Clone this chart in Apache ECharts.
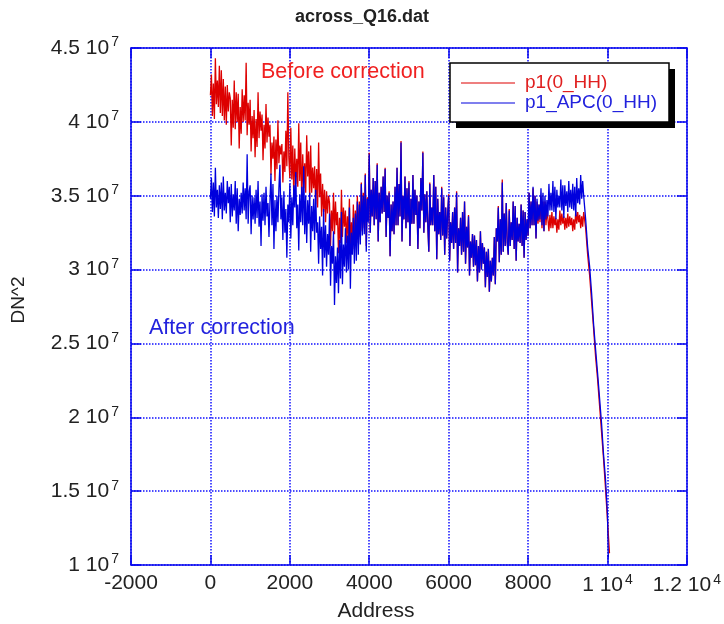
<!DOCTYPE html>
<html>
<head>
<meta charset="utf-8">
<script src="https://cdn.jsdelivr.net/npm/echarts@6/dist/echarts.min.js"></script>
<style>
  html, body { margin: 0; padding: 0; background: #fff; }
  #chart { width: 724px; height: 624px; }
</style>
</head>
<body>
<div id="chart"></div>
<script>
// values in units of 1e6 (DN^2), sampled every 25 addresses from 0 to 9400
const step = 25;

const p1 = [
  41.8, 43.2, 40.4, 42.6, 40.2, 44.3, 41.2, 42.8, 41.0, 43.8, 40.6, 43.5, 40.4, 42.9, 40.1, 42.4, 39.8, 42.5, 40.7, 42.0,
  41.6, 38.4, 41.5, 39.6, 42.8, 39.5, 42.0, 40.0, 41.9, 38.2, 41.0, 39.2, 42.2, 40.0, 41.8, 40.1, 44.0, 39.1, 41.3, 39.8,
  41.5, 38.0, 40.4, 38.9, 40.8, 37.6, 40.2, 38.3, 42.0, 38.9, 40.7, 39.4, 40.5, 37.4, 39.8, 38.2, 41.2, 38.6, 40.3, 39.0,
  39.8, 36.4, 38.6, 37.5, 39.0, 36.0, 38.8, 36.8, 40.1, 37.2, 38.4, 37.8, 38.5, 35.9, 38.0, 36.6, 39.4, 37.0, 42.0, 37.6,
  36.2, 39.6, 36.1, 38.4, 34.9, 38.2, 35.8, 37.5, 35.6, 39.9, 36.0, 38.6, 34.6, 37.8, 35.5, 37.2, 35.2, 39.1, 36.3, 38.0,
  34.8, 38.4, 35.2, 36.9, 35.5, 37.0, 34.4, 36.8, 34.2, 38.6, 34.9, 36.5, 33.6, 35.8, 33.9, 35.4, 33.2, 35.3, 33.8, 35.0,
  34.5, 31.6, 34.0, 32.6, 35.2, 32.4, 34.6, 33.0, 33.9, 31.1, 33.5, 31.8, 35.4, 32.2, 34.2, 32.9, 34.0, 31.8, 33.6, 32.0,
  34.8, 31.5, 33.2, 31.6, 34.4, 31.4, 34.0, 32.0, 35.0, 31.8, 34.6, 32.2, 35.9, 32.6, 35.2, 32.8, 36.5, 31.6, 34.9, 33.4,
  37.9, 32.5, 35.4, 33.6, 36.2, 33.0, 36.0, 33.4, 37.2, 31.9, 35.2, 33.2, 35.6, 33.8, 36.3, 33.9, 36.9, 32.2, 35.0, 33.5,
  35.3, 30.9, 34.4, 32.6, 34.6, 32.4, 35.6, 33.0, 36.9, 33.0, 35.8, 33.6, 38.7, 31.9, 35.0, 33.4, 36.3, 32.8, 35.5, 33.2,
  36.0, 31.6, 34.8, 33.1, 36.4, 33.1, 35.4, 33.7, 35.0, 31.4, 34.6, 32.8, 36.2, 34.0, 38.0, 32.5, 35.1, 33.2, 35.3, 33.0,
  31.2, 35.9, 33.0, 34.2, 33.0, 36.4, 32.6, 35.6, 30.7, 34.8, 32.4, 33.9, 32.0, 35.6, 32.3, 34.9, 31.0, 34.2, 32.1, 33.8,
  35.1, 30.6, 33.2, 31.8, 33.9, 31.4, 34.2, 31.8, 35.3, 29.8, 32.8, 31.6, 33.5, 31.0, 33.9, 31.2, 34.6, 30.4, 32.9, 31.5,
  33.7, 29.6, 31.9, 30.8, 32.4, 30.2, 32.3, 30.3, 32.0, 29.2, 31.6, 29.8, 32.6, 30.0, 31.8, 30.4, 31.5, 28.8, 31.2, 29.5,
  31.4, 28.5, 30.6, 29.2, 30.8, 29.6, 32.2, 29.0, 32.8, 31.9, 34.3, 30.5, 33.4, 31.0, 36.1, 31.2, 33.8, 31.6, 34.5, 31.8,
  31.0, 34.1, 31.6, 33.2, 32.0, 34.6, 31.4, 34.3, 30.6, 33.5, 31.9, 33.1, 31.8, 34.4, 31.6, 34.0, 30.8, 33.9, 32.0, 33.4,
  32.3, 35.2, 32.8, 34.6, 33.0, 35.5, 33.0, 35.0, 32.1, 34.6, 33.1, 34.4, 33.2, 35.0, 32.8, 34.6, 32.6, 34.6, 33.0, 34.0,
  33.4, 32.6, 33.7, 32.8, 33.9, 32.8, 33.6, 33.0, 33.5, 32.5, 33.4, 32.7, 34.0, 33.0, 33.8, 33.1, 33.6, 32.7, 33.5, 32.8,
  33.8, 32.9, 33.6, 33.0, 33.5, 32.6, 33.4, 32.7, 34.0, 33.1, 33.9, 33.2, 33.7, 32.8, 33.6, 32.9, 33.9
];

const p1Apc = [
  34.8, 36.2, 33.9, 35.9, 33.6, 36.9, 34.2, 35.4, 33.5, 35.7, 34.1, 35.9, 33.4, 36.3, 34.0, 35.2, 33.8, 36.0, 34.5, 35.6,
  33.2, 35.8, 33.6, 35.1, 34.0, 36.0, 33.1, 35.5, 32.6, 34.8, 33.7, 35.2, 33.8, 35.9, 34.0, 35.5, 33.4, 37.8, 33.1, 35.3,
  35.7, 32.4, 35.0, 33.4, 34.9, 33.1, 35.4, 33.5, 36.0, 32.9, 34.6, 31.6, 35.1, 33.3, 35.2, 33.0, 35.6, 33.6, 34.5, 32.2,
  34.6, 36.5, 33.0, 35.8, 31.4, 34.7, 32.6, 35.0, 33.2, 35.5, 37.1, 33.4, 34.9, 32.0, 35.3, 32.5, 34.1, 30.8, 34.4, 33.2,
  35.8, 32.1, 34.9, 33.0, 35.7, 34.2, 36.6, 32.8, 34.4, 31.3, 35.1, 33.2, 35.6, 33.0, 37.0, 32.4, 35.0, 31.8, 34.7, 33.1,
  35.2, 31.2, 34.3, 32.6, 34.8, 32.0, 35.4, 32.5, 33.2, 30.4, 33.6, 31.4, 32.9, 29.6, 34.1, 30.8, 33.0, 30.2, 32.4, 31.0,
  33.8, 28.9, 31.6, 30.4, 32.6, 27.6, 30.9, 29.1, 31.5, 28.4, 32.0, 29.4, 33.9, 29.0, 31.7, 30.2, 32.8, 29.8, 32.3, 30.0,
  34.2, 28.7, 32.5, 31.0, 33.5, 30.4, 33.8, 30.6, 34.6, 31.0, 34.4, 31.7, 35.8, 32.3, 35.0, 32.4, 36.4, 31.2, 34.8, 33.2,
  37.8, 32.5, 35.4, 33.6, 36.2, 33.0, 36.0, 33.4, 37.1, 31.9, 35.2, 33.2, 35.6, 33.8, 36.3, 33.9, 36.8, 32.2, 35.0, 33.5,
  35.2, 30.9, 34.4, 32.6, 34.6, 32.4, 35.6, 33.0, 36.9, 33.0, 35.8, 33.6, 38.6, 31.9, 35.0, 33.4, 36.3, 32.8, 35.5, 33.2,
  35.9, 31.6, 34.8, 33.1, 36.4, 33.1, 35.4, 33.7, 35.0, 31.4, 34.6, 32.8, 36.2, 34.0, 37.9, 32.5, 35.1, 33.2, 35.3, 33.0,
  31.2, 35.8, 33.0, 34.2, 33.0, 36.4, 32.6, 35.6, 30.7, 34.8, 32.4, 33.9, 32.0, 35.5, 32.3, 34.9, 31.0, 34.2, 32.1, 33.8,
  35.0, 30.6, 33.2, 31.8, 33.9, 31.4, 34.2, 31.8, 35.2, 29.8, 32.8, 31.6, 33.5, 31.0, 33.9, 31.2, 34.6, 30.4, 32.9, 31.5,
  33.6, 29.6, 31.9, 30.8, 32.4, 30.2, 32.3, 30.3, 32.0, 29.2, 31.6, 29.8, 32.6, 30.0, 31.8, 30.4, 31.5, 28.8, 31.2, 29.5,
  31.4, 28.5, 30.6, 29.2, 30.8, 29.6, 32.2, 29.0, 32.8, 31.9, 34.2, 30.5, 33.4, 31.0, 35.9, 31.2, 33.8, 31.6, 34.5, 31.8,
  31.0, 34.0, 31.6, 33.2, 32.0, 34.6, 31.4, 34.3, 30.6, 33.5, 31.9, 33.1, 31.8, 34.4, 31.6, 34.0, 30.8, 33.9, 32.0, 33.4,
  32.3, 35.2, 32.8, 34.6, 33.0, 35.6, 33.0, 35.0, 32.1, 34.8, 33.3, 34.4, 33.4, 35.5, 33.0, 35.2, 32.6, 35.0, 33.4, 34.7,
  33.6, 35.8, 34.0, 35.2, 34.0, 36.0, 33.9, 35.6, 33.4, 35.4, 34.2, 35.0, 34.2, 36.1, 34.0, 35.7, 33.5, 35.7, 34.3, 35.3,
  33.9, 36.0, 34.2, 35.4, 34.1, 35.8, 34.0, 35.6, 33.6, 36.2, 34.5, 35.5, 34.4, 36.4, 34.8, 36.0, 35.0
];

// the fall-off at the end of the swath
const p1DropAddr = [9450, 9500, 9550, 9600, 9650, 9700, 9750, 9800, 9850, 9900, 9950, 10000, 10050];
const p1DropVal = [32.8, 31.0, 29.6, 27.8, 26.0, 24.1, 22.6, 20.8, 19.0, 17.2, 15.2, 13.0, 10.8];
const apcDropAddr = [9450, 9500, 9550, 9600, 9650, 9700, 9750, 9800, 9850, 9900, 9950, 10000, 10020];
const apcDropVal = [33.4, 31.5, 30.2, 28.4, 26.3, 24.6, 23.0, 21.3, 19.6, 17.5, 15.8, 13.4, 10.5];

const seriesNames = ['p1(0_HH)', 'p1_APC(0_HH)'];

function toPairs(vals, dropAddr, dropVal) {
  const out = vals.map((v, i) => [i * step, v * 1e6]);
  dropAddr.forEach((a, i) => out.push([a, dropVal[i] * 1e6]));
  return out;
}

const blue = '#0000dd';
const red = '#dd0000';
const frame = '#0a0aee';
const gridBlue = '#1010ff';
const font = '"Liberation Sans", Arial, sans-serif';

const chart = echarts.init(document.getElementById('chart'));

const frameAxis = {
  axisLine: { show: true, onZero: false, lineStyle: { color: frame, width: 1.5 } },
  axisTick: { show: true, inside: true, length: 10, lineStyle: { color: frame, width: 1.5 } }
};

const gridLine = { show: true, lineStyle: { color: gridBlue, type: [1.5, 1.5], width: 1.5 } };

const richLabel = {
  a: { fontSize: 21, color: '#222', fontFamily: font },
  s: { fontSize: 14, color: '#222', fontFamily: font, padding: [0, 0, 11, 2] }
};

const option = {
  animation: false,
  backgroundColor: '#fff',
  textStyle: { fontFamily: font },
  title: {
    text: 'across_Q16.dat',
    left: 'center',
    top: 3,
    textStyle: { fontSize: 18, fontWeight: 'bold', color: '#222', fontFamily: font }
  },
  grid: { left: 131, right: 37, top: 48, bottom: 59 },
  xAxis: [
    {
      type: 'value',
      min: -2000,
      max: 12000,
      interval: 2000,
      ...frameAxis,
      axisLabel: {
        color: '#222',
        margin: 8,
        formatter: v => v >= 10000 ? '{a|' + (v / 10000) + ' 10}{s|4}' : '{a|' + v + '}',
        rich: richLabel
      },
      splitLine: gridLine
    },
    {
      type: 'value', position: 'top', min: -2000, max: 12000, interval: 2000,
      ...frameAxis, axisLabel: { show: false }, splitLine: { show: false }
    }
  ],
  yAxis: [
    {
      type: 'value',
      min: 1e7,
      max: 4.5e7,
      interval: 5e6,
      ...frameAxis,
      axisLabel: {
        color: '#222',
        margin: 12,
        formatter: v => '{a|' + (v / 1e7) + ' 10}{s|7}',
        rich: richLabel
      },
      splitLine: gridLine
    },
    {
      type: 'value', position: 'right', min: 1e7, max: 4.5e7, interval: 5e6,
      ...frameAxis, axisLabel: { show: false }, splitLine: { show: false }
    }
  ],
  graphic: [
    // legend box with its drop shadow
    { type: 'rect', z: 15, shape: { x: 456, y: 69, width: 219, height: 59 }, style: { fill: '#000' } },
    { type: 'rect', z: 16, shape: { x: 450, y: 63, width: 219, height: 59 }, style: { fill: '#fff', stroke: '#000', lineWidth: 1.5 } },
    { type: 'line', z: 17, shape: { x1: 461, y1: 83, x2: 515, y2: 83 }, style: { stroke: red, lineWidth: 1.2 } },
    { type: 'line', z: 17, shape: { x1: 461, y1: 103, x2: 515, y2: 103 }, style: { stroke: blue, lineWidth: 1.2 } },
    { type: 'text', z: 17, x: 525, y: 83, style: { text: seriesNames[0], fill: '#e02020', font: '19px ' + font, verticalAlign: 'middle' } },
    { type: 'text', z: 17, x: 525, y: 103, style: { text: seriesNames[1], fill: '#2222dd', font: '19px ' + font, verticalAlign: 'middle' } },
    // annotations and axis names
    { type: 'text', z: 20, x: 261, y: 72, style: { text: 'Before correction', fill: '#f02020', font: '21.5px ' + font, verticalAlign: 'middle' } },
    { type: 'text', z: 20, x: 149, y: 328, style: { text: 'After correction', fill: '#2222dd', font: '21.5px ' + font, verticalAlign: 'middle' } },
    { type: 'text', z: 20, x: 376, y: 611, style: { text: 'Address', fill: '#222', font: '21px ' + font, align: 'center', verticalAlign: 'middle' } },
    { type: 'text', z: 20, x: 19, y: 300, rotation: Math.PI / 2, style: { text: 'DN^2', fill: '#222', font: '19px ' + font, align: 'center', verticalAlign: 'middle' } }
  ],
  series: [
    {
      name: seriesNames[0],
      type: 'line',
      symbol: 'none',
      color: red,
      lineStyle: { width: 1.3, color: red },
      data: toPairs(p1, p1DropAddr, p1DropVal)
    },
    {
      name: seriesNames[1],
      type: 'line',
      symbol: 'none',
      color: blue,
      lineStyle: { width: 1.3, color: blue },
      data: toPairs(p1Apc, apcDropAddr, apcDropVal)
    }
  ]
};

chart.setOption(option);
</script>
</body>
</html>
